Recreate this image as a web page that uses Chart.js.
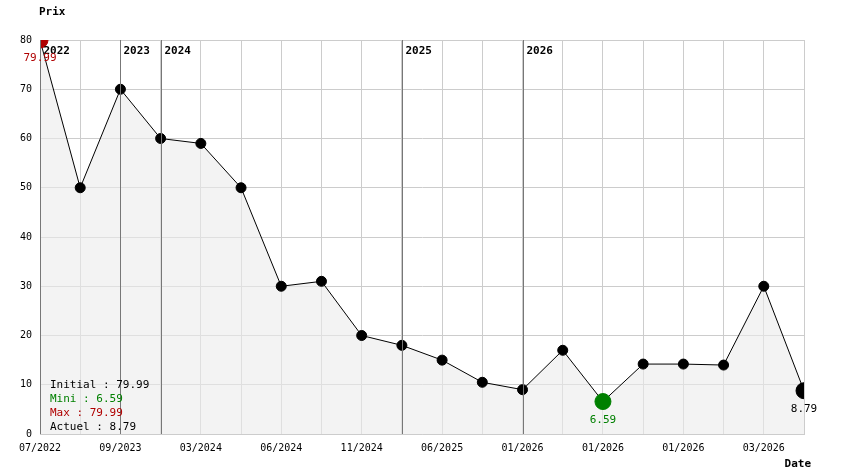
<!DOCTYPE html>
<html><head><meta charset="utf-8">
<script src="https://cdn.jsdelivr.net/npm/chart.js@4"></script>
<style>body{margin:0;background:#fff}</style>
</head><body><canvas id="c" width="844" height="474"></canvas>
<script>
const dateLabels = ['07/2022','','09/2023','','03/2024','','06/2024','','11/2024','','06/2025','','01/2026','','01/2026','','01/2026','','03/2026',''];
const prices = [79.99, 50, 70, 60, 59, 50, 30, 31, 20, 18, 15, 10.5, 9, 17, 6.59, 14.2, 14.2, 14, 30, 8.79];
const yearIdx = [0, 2, 3, 9, 12];
const yearNames = ['2022', '2023', '2024', '2025', '2026'];
const FONT = 'DejaVu Sans Mono';

const iMax = prices.indexOf(Math.max(...prices));
const iMin = prices.indexOf(Math.min(...prices));
const iLast = prices.length - 1;
const ptColor = prices.map((v, i) => i === iMax ? '#b00000' : i === iMin ? '#008000' : '#000');
const ptRadius = prices.map((v, i) => (i === iMax || i === iMin || i === iLast) ? 8 : 5);

const overlay = {
  id: 'overlay',
  afterDatasetsDraw(chart) {
    const ctx = chart.ctx, x = chart.scales.x, y = chart.scales.y, a = chart.chartArea;
    ctx.save();
    ctx.strokeStyle = '#777'; ctx.lineWidth = 1;
    ctx.font = 'bold 11px ' + FONT; ctx.fillStyle = '#000'; ctx.textBaseline = 'middle';
    yearIdx.forEach((idx, k) => {
      const px = Math.round(x.getPixelForValue(idx)) + 0.5;
      ctx.beginPath(); ctx.moveTo(px, a.top); ctx.lineTo(px, a.bottom); ctx.stroke();
      ctx.textAlign = 'left';
      ctx.fillText(yearNames[k], px + 3, a.top + 11);
    });
    ctx.font = '11px ' + FONT; ctx.textAlign = 'center'; ctx.textBaseline = 'top';
    [[iMax, '#b00000'], [iMin, '#008000'], [iLast, '#000']].forEach(([i, c]) => {
      ctx.fillStyle = c;
      ctx.fillText(prices[i].toFixed(2), x.getPixelForValue(i), y.getPixelForValue(prices[i]) + 13);
    });
    // summary
    ctx.textAlign = 'left'; ctx.textBaseline = 'middle';
    const lines = [['Initial : ' + prices[0].toFixed(2), '#000'], ['Mini : ' + prices[iMin].toFixed(2), '#008000'],
                   ['Max : ' + prices[iMax].toFixed(2), '#b00000'], ['Actuel : ' + prices[iLast].toFixed(2), '#000']];
    lines.forEach(([t, c], k) => { ctx.fillStyle = c; ctx.fillText(t, 50, 385 + k * 14); });
    ctx.font = 'bold 11px ' + FONT; ctx.fillStyle = '#000';
    ctx.fillText('Prix', 39, 12);
    ctx.textAlign = 'right';
    ctx.fillText('Date', 811, 464);
    ctx.restore();
  }
};

new Chart(document.getElementById('c'), {
  type: 'line',
  data: {
    datasets: [{
      data: prices.map((v, i) => ({x: i, y: v})),
      borderColor: '#000', borderWidth: 1, tension: 0,
      fill: 'origin', backgroundColor: 'rgba(235,235,235,0.6)',
      pointBackgroundColor: ptColor, pointBorderColor: ptColor, pointRadius: ptRadius
    }]
  },
  options: {
    responsive: false, animation: false, devicePixelRatio: 1,
    layout: {padding: {top: 40, right: 40, left: 0, bottom: 0}},
    plugins: {legend: {display: false}, tooltip: {enabled: false}},
    scales: {
      x: {
        type: 'linear', min: 0, max: 19,
        afterFit: s => { s.height = 40; },
        grid: {color: '#ccc', tickLength: 0},
        border: {color: '#ccc'},
        ticks: {stepSize: 1, autoSkip: false, maxRotation: 0, padding: 8, color: '#000',
          font: {family: FONT, size: 10}, callback: v => dateLabels[v] || ''}
      },
      y: {
        min: 0, max: 80,
        afterFit: s => { s.width = 40; },
        grid: {color: '#ccc', tickLength: 0},
        border: {color: '#ccc'},
        ticks: {stepSize: 10, padding: 8, color: '#000', font: {family: FONT, size: 10}}
      }
    }
  },
  plugins: [overlay]
});
</script>
</body></html>
